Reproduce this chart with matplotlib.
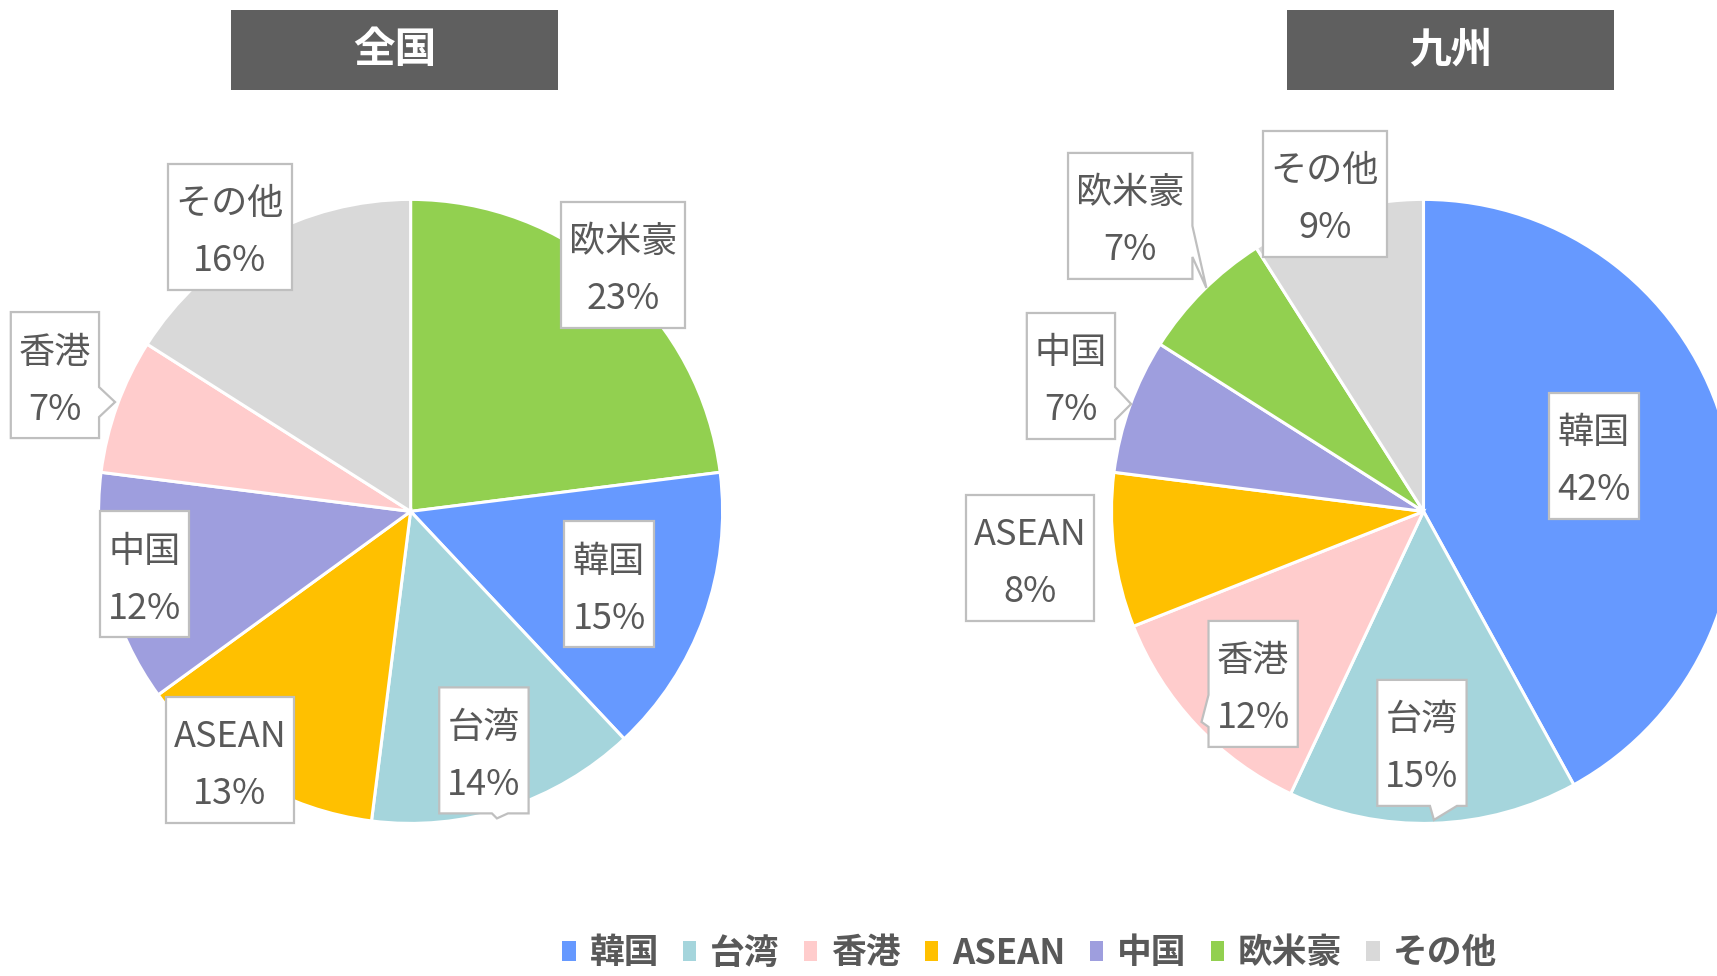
import matplotlib
matplotlib.use('Agg')
import matplotlib.pyplot as plt
from matplotlib.patches import Rectangle, Patch, Polygon

plt.rcParams['font.family'] = ['Noto Sans CJK JP', 'DejaVu Sans']

# data
zenkoku_names = ['欧米豪', '韓国', '台湾', 'ASEAN', '中国', '香港', 'その他']
zenkoku_pct = [23, 15, 14, 13, 12, 7, 16]
kyushu_names = ['韓国', '台湾', '香港', 'ASEAN', '中国', '欧米豪', 'その他']
kyushu_pct = [42, 15, 12, 8, 7, 7, 9]
legend_names = ['韓国', '台湾', '香港', 'ASEAN', '中国', '欧米豪', 'その他']

colors = {'韓国': '#6699FF', '台湾': '#A5D5DC', '香港': '#FFCCCC', 'ASEAN': '#FFC000',
          '中国': '#9E9EDE', '欧米豪': '#92D050', 'その他': '#D9D9D9'}

# label box centres (in pie radius units, relative to centre)
zenkoku_lbl_pos = [(0.681, 0.790), (0.636, -0.233), (0.235, -0.766), (-0.579, -0.796),
                   (-0.854, -0.201), (-1.140, 0.437), (-0.579, 0.912)]
kyushu_lbl_pos = [(0.546, 0.178), (-0.005, -0.742), (-0.546, -0.553), (-1.261, -0.149),
                  (-1.130, 0.434), (-0.940, 0.947), (-0.316, 1.018)]
# callout pointers: side, base start, base end, tip position along side, tip distance (px)
zenkoku_ptr = {'台湾': ('bottom', 8, 24, 13, 5), '香港': ('right', 12, 42, 27, 16)}
kyushu_ptr = {'台湾': ('bottom', 8, 35, 12, 14), '香港': ('left', 11, 43, 38, 7),
              '中国': ('right', 11, 44, 28, 16), '欧米豪': ('right', 10, 41, 72, 14)}

W, H = 1717, 976
fig = plt.figure(figsize=(W / 100, H / 100), dpi=100)
renderer = fig.canvas.get_renderer()

R = 312
def pie_axes(cx, cy):
    return fig.add_axes([(cx - R) / W, (H - cy - R) / H, 2 * R / W, 2 * R / H])

txt_color = '#595959'
box_h = 126
box_pad = 8
txt_shift = 6  # text sits a little below the box centre

def callout(ax, t, x, y, ptr):
    cx, cy = ax.transData.transform((x, y))
    bb = t.get_window_extent(renderer)
    x0, x1 = cx - bb.width / 2 - box_pad, cx + bb.width / 2 + box_pad
    y0, y1 = cy - box_h / 2, cy + box_h / 2
    side, b0, b1, tp, d = ptr if ptr else (None, 0, 0, 0, 0)
    v = [(x0, y1), (x1, y1)]
    if side == 'right':
        v += [(x1, cy - b0), (x1 + d, cy - tp), (x1, cy - b1)]
    v += [(x1, y0)]
    if side == 'bottom':
        v += [(cx + b1, y0), (cx + tp, y0 - d), (cx + b0, y0)]
    v += [(x0, y0)]
    if side == 'left':
        v += [(x0, cy - b1), (x0 - d, cy - tp), (x0, cy - b0)]
    v = ax.transData.inverted().transform(v)
    ax.add_patch(Polygon(v, closed=True, fc='white', ec='#BFBFBF', lw=1.6,
                         clip_on=False, zorder=4))

def draw_pie(ax, names, pct, lbl_pos, ptrs):
    ax.pie(pct, colors=[colors[n] for n in names], startangle=90, counterclock=False,
           radius=1, wedgeprops=dict(edgecolor='white', linewidth=2.2))
    ax.set_xlim(-1, 1)
    ax.set_ylim(-1, 1)
    ax.set_aspect('equal')
    ax.axis('off')
    for n, p, (x, y) in zip(names, pct, lbl_pos):
        t = ax.text(x, y - txt_shift / R, f'{n}\n{p}%', ha='center', va='center',
                    fontsize=26, color=txt_color, linespacing=1.75, clip_on=False, zorder=5)
        callout(ax, t, x, y, ptrs.get(n))

ax1 = pie_axes(410.6, 511.4)
draw_pie(ax1, zenkoku_names, zenkoku_pct, zenkoku_lbl_pos, zenkoku_ptr)
ax2 = pie_axes(1423.5, 511.4)
draw_pie(ax2, kyushu_names, kyushu_pct, kyushu_lbl_pos, kyushu_ptr)

# title boxes
for x0, title in [(231, '全国'), (1287, '九州')]:
    fig.add_artist(Rectangle((x0 / W, (H - 90) / H), 327 / W, 80 / H,
                             transform=fig.transFigure, fc='#5F5F5F', ec='none'))
    fig.text((x0 + 163.5) / W, (H - 50) / H, title, ha='center', va='center',
             fontsize=30, fontweight='bold', color='white')

handles = [Patch(fc=colors[n], ec='none') for n in legend_names]
fig.legend(handles, legend_names, loc='center', bbox_to_anchor=(1030 / W, (H - 953) / H),
           ncol=7, frameon=False, handlelength=0.38, handleheight=0.5, handletextpad=0.4,
           columnspacing=0.7, prop=dict(weight='bold', size=25), labelcolor=txt_color)

fig.savefig('out.png', dpi=100)
